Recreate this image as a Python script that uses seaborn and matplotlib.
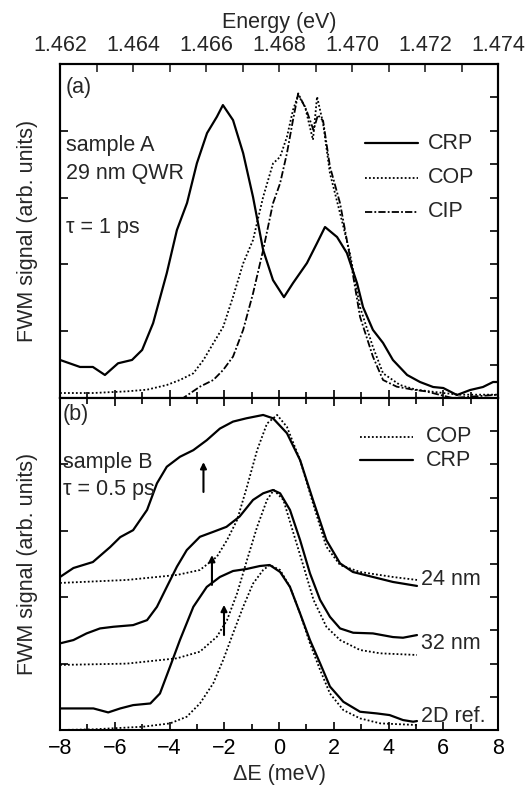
import matplotlib
matplotlib.use("Agg")
import matplotlib.pyplot as plt
import seaborn as sns
import numpy as np
from matplotlib.ticker import MultipleLocator, FormatStrFormatter

# ---- panel (a): sample A, 29 nm QWR, tau = 1 ps ----
a_crp_x = [-8, -7.27, -6.8, -6.36, -5.88, -5.37, -5.0, -4.6, -4.1, -3.73, -3.36, -3.0, -2.63, -2.27,
           -2.05, -1.68, -1.31, -0.95, -0.58, -0.22, 0.18, 0.51, 1.02, 1.39, 1.68, 2.12, 2.48, 2.85,
           3.07, 3.43, 3.8, 4.16, 4.68, 5.15, 5.63, 6.0, 6.5, 6.98, 7.45, 7.82, 8.0]
a_crp_y = [1.14, 0.93, 0.93, 0.69, 1.04, 1.14, 1.44, 2.24, 3.74, 5.03, 5.84, 7.03, 7.93, 8.42,
           8.77, 8.32, 7.33, 6.02, 4.43, 3.53, 3.02, 3.44, 4.04, 4.64, 5.12, 4.82, 4.34, 3.44,
           2.72, 2.04, 1.65, 1.14, 0.69, 0.48, 0.33, 0.30, 0.09, 0.24, 0.33, 0.48, 0.48]

a_cop_x = [-8, -6.8, -5.56, -4.82, -4.1, -3.62, -3.13, -2.76, -2.4, -2.04, -1.68, -1.31, -0.95,
           -0.58, -0.22, 0.04, 0.29, 0.51, 0.70, 0.95, 1.24, 1.39, 1.61, 1.86, 2.23, 2.59, 2.96,
           3.43, 3.8, 4.42, 5.0, 6.0, 6.6, 8.0]
a_cop_y = [0.15, 0.15, 0.20, 0.25, 0.39, 0.54, 0.74, 1.14, 1.64, 2.13, 3.03, 4.03, 4.73,
           6.02, 7.02, 7.22, 7.82, 8.62, 9.07, 8.72, 7.73, 9.02, 8.22, 6.73, 5.53, 4.33, 2.72,
           1.53, 0.74, 0.39, 0.25, 0.15, 0.10, 0.10]

a_cip_x = [-8, -3.5, -2.89, -2.4, -2.04, -1.68, -1.31, -0.95, -0.58, -0.22, 0.04, 0.29, 0.51,
           0.70, 1.0, 1.26, 1.42, 1.61, 1.86, 2.23, 2.59, 2.96, 3.43, 3.8, 4.3, 4.9, 5.36, 6.34, 8.0]
a_cip_y = [0.0, 0.0, 0.34, 0.54, 0.84, 1.24, 2.04, 3.13, 4.43, 5.83, 6.43, 7.33, 8.32,
           9.12, 8.62, 8.02, 8.47, 8.30, 6.93, 5.83, 4.23, 2.43, 1.24, 0.54, 0.34, 0.25, 0.20, 0.0, 0.10]

# ---- panel (b): sample B, tau = 0.5 ps ----
b24_crp_x = [-8, -7.51, -6.8, -6.17, -5.8, -5.33, -4.82, -4.46, -4.1, -3.62, -3.13, -2.64, -2.16,
             -1.68, -1.19, -0.58, -0.22, 0.29, 0.77, 1.24, 1.73, 2.23, 2.7, 3.43, 4.16, 5.04]
b24_crp_y = [4.61, 4.88, 5.06, 5.51, 5.81, 6.02, 6.63, 7.43, 7.93, 8.23, 8.43, 8.73, 9.08,
             9.29, 9.39, 9.49, 9.39, 8.94, 8.13, 6.93, 5.72, 5.02, 4.76, 4.61, 4.46, 4.34]
b24_cop_x = [-8, -5.56, -3.73, -2.89, -2.27, -1.9, -1.53, -1.17, -0.8, -0.44, -0.07, 0.29, 0.77,
             1.24, 1.73, 2.23, 2.96, 4.16, 5.04]
b24_cop_y = [4.43, 4.52, 4.67, 4.82, 5.22, 5.72, 6.33, 7.33, 8.43, 9.23, 9.49, 9.13, 8.13,
             6.83, 5.52, 4.97, 4.76, 4.61, 4.52]

b32_crp_x = [-8, -7.51, -7.03, -6.54, -6.05, -5.33, -4.82, -4.46, -4.1, -3.73, -3.37, -2.89, -2.4,
             -1.92, -1.44, -0.95, -0.58, -0.22, 0.04, 0.4, 0.77, 1.13, 1.5, 1.86, 2.23, 2.71, 3.43,
             4.16, 4.53, 5.04]
b32_crp_y = [2.61, 2.71, 2.91, 3.06, 3.11, 3.16, 3.31, 3.71, 4.31, 4.92, 5.42, 5.82, 5.97,
             6.12, 6.43, 6.93, 7.13, 7.23, 7.13, 6.63, 5.72, 4.72, 3.92, 3.41, 3.06, 2.93, 2.91,
             2.80, 2.78, 2.86]
b32_cop_x = [-8, -5.56, -3.73, -2.89, -2.27, -1.9, -1.53, -1.17, -0.8, -0.44, -0.19, 0.16, 0.53,
             0.9, 1.26, 1.73, 2.23, 2.96, 3.7, 5.04]
b32_cop_y = [1.96, 2.00, 2.16, 2.36, 2.81, 3.31, 4.12, 5.12, 6.12, 6.93, 7.23, 6.93, 5.92,
             4.92, 3.92, 3.11, 2.71, 2.41, 2.31, 2.26]

b2d_crp_x = [-8, -7.27, -6.78, -6.24, -5.8, -5.33, -4.7, -4.35, -3.98, -3.62, -3.13, -2.64, -2.16,
             -1.68, -1.19, -0.7, -0.34, 0.04, 0.4, 0.77, 1.13, 1.5, 1.86, 2.35, 2.96, 3.57, 4.04,
             4.53, 4.9, 5.04]
b2d_crp_y = [0.65, 0.65, 0.65, 0.53, 0.65, 0.75, 0.80, 1.10, 1.91, 2.71, 3.71, 4.31, 4.61,
             4.79, 4.85, 4.94, 4.97, 4.76, 4.31, 3.51, 2.71, 2.01, 1.31, 0.85, 0.55, 0.50, 0.45,
             0.30, 0.25, 0.27]
b2d_cop_x = [-8, -6.78, -4.96, -3.98, -3.37, -2.89, -2.4, -2.04, -1.68, -1.31, -0.95, -0.58, -0.34,
             0.04, 0.4, 0.77, 1.13, 1.5, 1.86, 2.35, 2.96, 3.7, 5.04]
b2d_cop_y = [0.0, 0.02, 0.10, 0.20, 0.40, 0.80, 1.41, 2.11, 2.91, 3.71, 4.41, 4.82, 4.97,
             4.82, 4.31, 3.51, 2.61, 1.81, 1.10, 0.60, 0.35, 0.20, 0.15]

arrow_x = [-2.76, -2.45, -2.01]
arrow_y0 = [7.17, 4.37, 2.86]
arrow_y1 = [8.07, 5.27, 3.77]

b_labels = ["24 nm", "32 nm", "2D ref."]
b_label_y = [4.52, 2.61, 0.40]

energy_lim = (1.462, 1.474)

FS = 15.5

# ---- style ----
sns.set_style("ticks")
plt.rcParams["font.family"] = ["Liberation Sans", "DejaVu Sans"]
plt.rcParams["font.size"] = FS
plt.rcParams["axes.linewidth"] = 1.5

fig = plt.figure(figsize=(5.27, 7.91), dpi=100)
ax1 = fig.add_axes([0.1139, 0.4968, 0.8311, 0.4223])
ax2 = fig.add_axes([0.1139, 0.0771, 0.8311, 0.4197])

solid = dict(color="black", linewidth=1.6, linestyle="-")
dotted = dict(color="black", linewidth=1.3, linestyle=(0, (1, 1.2)))
dashdot = dict(color="black", linewidth=1.3, linestyle=(0, (4, 1.2, 1, 1.2)))

# panel (a)
sns.lineplot(x=a_cop_x, y=a_cop_y, ax=ax1, sort=False, **dotted)
sns.lineplot(x=a_cip_x, y=a_cip_y, ax=ax1, sort=False, **dashdot)
sns.lineplot(x=a_crp_x, y=a_crp_y, ax=ax1, sort=False, **solid)

# legend for (a), drawn as short line segments like the original
for yy, st, lab in [(7.63, solid, "CRP"), (6.59, dotted, "COP"), (5.57, dashdot, "CIP")]:
    ax1.plot([3.14, 5.08], [yy, yy], **st)
    ax1.text(5.45, yy, lab, va="center", ha="left", fontsize=FS)

ax1.text(-7.8, 9.3, "(a)", va="center", ha="left", fontsize=FS)
ax1.text(-7.8, 7.57, "sample A", va="center", ha="left", fontsize=FS)
ax1.text(-7.8, 6.73, "29 nm QWR", va="center", ha="left", fontsize=FS)
ax1.text(-7.8, 5.12, "\u03c4 = 1 ps", va="center", ha="left", fontsize=FS)

# panel (b)
for cx, cy in [(b24_cop_x, b24_cop_y), (b32_cop_x, b32_cop_y), (b2d_cop_x, b2d_cop_y)]:
    sns.lineplot(x=cx, y=cy, ax=ax2, sort=False, **dotted)
for cx, cy in [(b24_crp_x, b24_crp_y), (b32_crp_x, b32_crp_y), (b2d_crp_x, b2d_crp_y)]:
    sns.lineplot(x=cx, y=cy, ax=ax2, sort=False, **solid)

for xx, y0, y1 in zip(arrow_x, arrow_y0, arrow_y1):
    ax2.annotate("", xy=(xx, y1), xytext=(xx, y0),
                 arrowprops=dict(arrowstyle="-|>", color="black", lw=1.5,
                                 mutation_scale=9, shrinkA=0, shrinkB=0))

for lab, yy in zip(b_labels, b_label_y):
    ax2.text(5.2, yy, lab, va="center", ha="left", fontsize=FS)

for yy, st, lab in [(8.83, dotted, "COP"), (8.13, solid, "CRP")]:
    ax2.plot([2.96, 4.9], [yy, yy], **st)
    ax2.text(5.35, yy, lab, va="center", ha="left", fontsize=FS)

ax2.text(-7.9, 9.49, "(b)", va="center", ha="left", fontsize=FS)
ax2.text(-7.9, 8.07, "sample B", va="center", ha="left", fontsize=FS)
ax2.text(-7.9, 7.23, "\u03c4 = 0.5 ps", va="center", ha="left", fontsize=FS)

# axes formatting
for ax in (ax1, ax2):
    ax.set_xlim(-8, 8)
    ax.set_ylim(0, 10)
    ax.xaxis.set_major_locator(MultipleLocator(2))
    ax.xaxis.set_minor_locator(MultipleLocator(1))
    ax.yaxis.set_major_locator(MultipleLocator(2))
    ax.yaxis.set_minor_locator(MultipleLocator(1))
    ax.set_yticklabels([])
    ax.tick_params(axis="both", which="both", direction="in", width=1.2, colors="black")
    ax.tick_params(axis="x", which="major", length=6, top=True, bottom=True)
    ax.tick_params(axis="x", which="minor", length=4, top=True, bottom=True)
    ax.tick_params(axis="y", which="major", length=6, left=True, right=True)
    ax.tick_params(axis="y", which="minor", length=6, left=False, right=True)
    ax.set_ylabel("FWM signal (arb. units)", fontsize=FS, labelpad=12)
    for sp in ax.spines.values():
        sp.set_visible(True)
        sp.set_color("black")
        sp.set_linewidth(1.5)

ax1.tick_params(axis="x", labelbottom=False, top=False)
ax2.set_xlabel("\u0394E (meV)", fontsize=FS, labelpad=3)
ax2.tick_params(axis="x", labelsize=FS, pad=6)

# top energy axis
axt = ax1.twiny()
axt.set_xlim(*energy_lim)
axt.xaxis.set_major_locator(MultipleLocator(0.002))
axt.xaxis.set_minor_locator(MultipleLocator(0.001))
axt.xaxis.set_major_formatter(FormatStrFormatter("%.3f"))
axt.tick_params(axis="x", which="both", direction="in", width=1.2, labelsize=FS, pad=6)
axt.tick_params(axis="x", which="major", length=6)
axt.tick_params(axis="x", which="minor", length=6)
axt.set_xlabel("Energy (eV)", fontsize=FS, labelpad=5)
for sp in axt.spines.values():
    sp.set_linewidth(1.5)
    sp.set_color("black")

fig.savefig("out.png", dpi=100)
